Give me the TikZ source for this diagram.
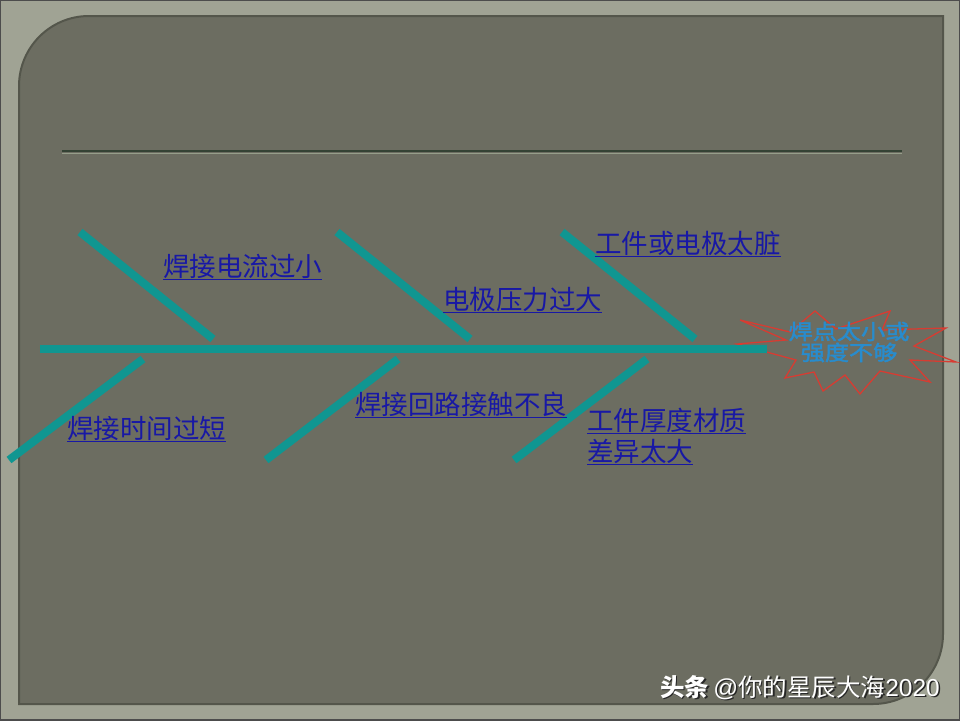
\documentclass[tikz,border=0pt]{standalone}
\usepackage{fontspec}
\newfontfamily\cjk{Noto Sans CJK SC}
\newfontfamily\wmlatin{Liberation Sans}
\newfontfamily\cjkstar[FakeStretch=1.15,FakeBold=2]{Noto Sans CJK SC}
\definecolor{framecol}{RGB}{160,163,148}
\definecolor{panelcol}{RGB}{108,109,97}
\definecolor{paneledge}{RGB}{84,86,75}
\definecolor{fishteal}{RGB}{16,150,145}
\definecolor{linkblue}{RGB}{24,24,165}
\definecolor{starred}{RGB}{215,60,50}
\definecolor{starblue}{RGB}{40,140,205}
\definecolor{rulecol}{RGB}{52,66,52}
\definecolor{rulelight}{RGB}{150,158,138}
\tikzset{
  bone/.style={draw=fishteal, line width=8},
  causelabel/.style={font=\cjk\fontsize{26.5}{30}\selectfont, text=linkblue, inner sep=0pt, anchor=base west},
  effecttext/.style={font=\cjkstar\fontsize{21}{21}\selectfont, text=starblue, inner sep=0pt, align=center},
  wmtext/.style={font=\cjk\fontsize{24.5}{28}\selectfont, inner sep=0pt, anchor=base east}
}
\begin{document}
\begin{tikzpicture}[x=1pt,y=-1pt]
\useasboundingbox (0,0) rectangle (960,720);
% frame and panel
\fill[framecol] (0,0) rectangle (960,720);
\draw[black!70, line width=2] (0,0) rectangle (960,720);
\fill[panelcol, draw=paneledge, line width=2]
  (19,704) -- (19,86) arc[start angle=180, end angle=270, radius=70]
  -- (943,16) -- (943,634) arc[start angle=0, end angle=90, radius=70] -- cycle;
% title rule
\coordinate (ruleL) at (62,151);
\coordinate (ruleR) at (902,151);
\draw[rulecol, line width=2] (ruleL) -- (ruleR);
\draw[rulelight, line width=0.8] ([yshift=-2.2pt]ruleL) -- ([yshift=-2.2pt]ruleR);
% effect star
\draw[starred, line width=1.3, line join=miter]
  (740,320) -- (790,332) -- (815,311) -- (836,329) -- (890,311) -- (882,330)
  -- (946,328) -- (914,346) -- (956,362) -- (910,360) -- (930,382) -- (880,371)
  -- (860,394) -- (845,375) -- (823,391) -- (814,372) -- (785,378) -- (796,360)
  -- (737,344) -- (786,340) -- cycle;
% spine
\coordinate (spineL) at (40,349);
\coordinate (spineR) at (767,349);
\draw[bone] (spineL) -- (spineR);
% upper bones
\coordinate (u1a) at (80,232);  \coordinate (u1b) at (213,339);
\coordinate (u2a) at (337,232); \coordinate (u2b) at (470,339);
\coordinate (u3a) at (562,232); \coordinate (u3b) at (695,339);
\draw[bone] (u1a) -- (u1b);
\draw[bone] (u2a) -- (u2b);
\draw[bone] (u3a) -- (u3b);
% lower bones
\coordinate (l1a) at (143,359); \coordinate (l1b) at (9,460);
\coordinate (l2a) at (398,359); \coordinate (l2b) at (266,460);
\coordinate (l3a) at (647,359); \coordinate (l3b) at (514,460);
\draw[bone] (l1a) -- (l1b);
\draw[bone] (l2a) -- (l2b);
\draw[bone] (l3a) -- (l3b);
% effect text
\node[effecttext] (effect) at (849,342) {焊点太小或\\强度不够};
% cause labels
\node[causelabel] (c1) at (163,276) {\underline{焊接电流过小}};
\node[causelabel] (c2) at (443,309) {\underline{电极压力过大}};
\node[causelabel] (c3) at (595,253) {\underline{工件或电极太脏}};
\node[causelabel] (c4) at (67,438) {\underline{焊接时间过短}};
\node[causelabel] (c5) at (355,414) {\underline{焊接回路接触不良}};
\node[causelabel] (c6a) at (587,430) {\underline{工件厚度材质}};
\node[causelabel] (c6b) at (587,461) {\underline{差异太大}};
% watermark
\node[wmtext, text=black!85] (wmshadow) at (941.5,697.5) {\textbf{头条}\hspace{4pt}{\wmlatin @}你的星辰大海{\wmlatin 2020}};
\node[wmtext, text=white] (wm) at (940,696) {\textbf{头条}\hspace{4pt}{\wmlatin @}你的星辰大海{\wmlatin 2020}};
\end{tikzpicture}
\end{document}
